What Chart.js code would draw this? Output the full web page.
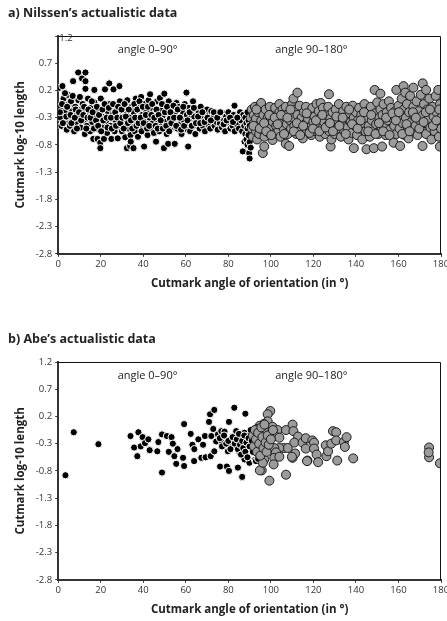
<!DOCTYPE html>
<html>
<head>
<meta charset="utf-8">
<script src="https://cdn.jsdelivr.net/npm/chart.js@4/dist/chart.umd.min.js"></script>
<style>
  html, body { margin: 0; padding: 0; background: #fff; }
  body { width: 447px; height: 621px; position: relative; overflow: hidden; }
  .box { position: absolute; left: 0; width: 447px; height: 296px; }
  #boxA { top: 0; }
  #boxB { top: 326px; }
</style>
</head>
<body>
<div class="box" id="boxA"><canvas id="chartA"></canvas></div>
<div class="box" id="boxB"><canvas id="chartB"></canvas></div>
<script>
// ---------- Data ----------
const chartTitles = ["a) Nilssen\u2019s actualistic data", "b) Abe\u2019s actualistic data"];
const xAxisTitle = "Cutmark angle of orientation (in \u00b0)";
const yAxisTitle = "Cutmark log-10 length";
const xTicks = [0, 20, 40, 60, 80, 100, 120, 140, 160, 180];
const yTicks = [-2.8, -2.3, -1.8, -1.3, -0.8, -0.3, 0.2, 0.7, 1.2];
const rangeLabels = ["angle 0\u201390\u00b0", "angle 90\u2013180\u00b0"];
const rangeLabelAngle = [42, 119];
const rangeLabelLength = 0.95;

// Nilssen, angle 0-90 (black) [angle, log10 length]
const nilssen0to90 = [
[0.5,0.25],[1,-0.1],[1.2,-0.3],[1.5,-0.45],[2,0.28],[2.5,0.05],[3,-0.2],[3.5,-0.38],[4,-0.52],[4.5,0.12],[5,-0.05],[5,-0.3],
[5.5,-0.45],[6,0.0],[6.5,-0.18],[7,0.37],[7,-0.35],[7.5,-0.55],[8,-0.1],[8.5,-0.25],[9,-0.42],[9.4,0.53],[9.5,0.02],[10,-0.3],
[10.5,-0.48],[11,-0.15],[11.2,0.42],[11.5,-0.05],[12,-0.35],[12.5,-0.6],[12.8,0.53],[12.8,0.37],[12.8,0.23],[13,-0.2],[13.5,-0.45],[14,0.05],[14.5,-0.3],
[15,-0.55],[15.5,-0.12],[16,-0.38],[16.5,-0.69],[17,0.21],[17,-0.02],[17.5,-0.25],[18,-0.5],[18.5,-0.69],[19,-0.15],[19.5,-0.35],[19.8,-0.76],[19.8,-0.86],[20,0.05],
[20.5,-0.28],[21,-0.48],[21.5,-0.69],[22,0.22],[22,-0.1],[22.5,-0.38],[23,-0.58],[23.5,-0.2],[24,0.33],[24,-0.05],[24.5,-0.45],[25,-0.69],
[25.5,-0.25],[26,0.22],[26,-0.1],[26.5,-0.55],[27,-0.35],[27.5,-0.15],[28,-0.68],[28.5,-0.45],[28.8,0.28],[29,0.0],[29.5,-0.28],[30,-0.55],
[30.5,-0.12],[31,-0.4],[31.5,-0.66],[32,-0.2],[32.3,-0.86],[32.5,0.02],[33,-0.5],[33.5,-0.3],[33.8,-0.82],[34,-0.62],[34.1,-0.74],[34.5,-0.1],[35,-0.42],[35.4,-0.86],
[35.5,-0.2],[36,-0.55],[36.5,0.05],[37,-0.32],[37.5,-0.65],[38,-0.12],[38.5,-0.45],[39,0.08],[39.5,-0.25],[40,-0.55],[40.4,-0.83],
[40.5,-0.05],[41,-0.38],[41.5,-0.18],[42,-0.62],[42.5,0.02],[43,-0.3],[43.2,0.13],[43.5,-0.5],[44,-0.12],[44.5,-0.4],[45,-0.58],
[45.5,-0.22],[46,-0.74],[46.5,0.0],[47,-0.35],[47.5,-0.55],[47.8,0.06],[48,-0.15],[48.5,-0.45],[49,-0.28],[49.7,-0.86],[49.9,0.14],[50,-0.05],
[50.5,-0.38],[51,-0.6],[51.5,-0.2],[51.7,-0.78],[52,0.0],[52.5,-0.32],[53,-0.5],[53.5,-0.12],[54,-0.42],[54.8,-0.78],[55,-0.25],
[55.6,-0.03],[56,-0.5],[56.5,-0.3],[57,-0.1],[57.5,-0.42],[58,-0.6],[58.5,-0.2],[59,-0.35],[59.5,-0.05],[60,-0.5],[60.3,0.16],
[60.5,-0.25],[61,-0.4],[61.1,-0.83],[61.5,-0.12],[62,-0.55],[62.5,-0.3],[63,-0.18],[63.4,0.0],[63.5,-0.45],[64,-0.28],[64.5,-0.6],[65,-0.15],
[65.5,-0.38],[66,-0.22],[66.5,-0.5],[67,-0.1],[67.5,-0.32],[68,-0.45],[68.5,-0.2],[69,-0.55],[69.5,-0.35],[70,-0.15],
[70.5,-0.42],[71,-0.25],[71.5,-0.5],[72,-0.18],[72.5,-0.35],[73,-0.28],[73.5,-0.45],[74,-0.2],[74.5,-0.38],[75,-0.52],
[75.5,-0.25],[76,-0.4],[76.5,-0.3],[77,-0.48],[77.5,-0.22],[78,-0.35],[78.5,-0.55],[79,-0.28],[79.5,-0.42],[80,-0.2],
[80.5,-0.38],[81,-0.5],[81.5,-0.3],[82,-0.45],[82.5,-0.25],[82.9,-0.08],[83,-0.55],[83.5,-0.35],[84,-0.42],[84.5,-0.28],[85,-0.5],[85.5,-0.2],
[86,-0.35],[86.5,-0.55],[86.8,-0.92],[87,-0.25],[87.5,-0.45],[87.6,-0.74],[88,-0.3],[88,-0.6],[88.5,-0.4],[88.5,-0.7],[89,-0.2],[89,-0.5],[89,-0.8],
[89.5,-0.35],[89.5,-0.62],[89.8,-0.95],[90,-0.45],[90,-1.05],[90,-0.75],[90.5,-0.85],
[0.8,-0.2],[1.8,-0.05],[2.2,-0.4],[3.2,0.15],[3.8,-0.28],[4.2,-0.1],[5.8,-0.25],[6.2,-0.4],[6.8,0.1],[7.8,-0.3],[8.2,-0.15],[8.8,-0.5],
[9.8,-0.2],[10.2,0.08],[10.8,-0.35],[11.8,-0.25],[12.2,-0.1],[13.2,-0.5],[13.8,-0.3],[14.2,-0.15],[15.2,-0.3],[15.8,0.0],[16.2,-0.2],[16.8,-0.5],
[17.8,-0.35],[18.2,-0.1],[18.8,-0.45],[19.2,-0.25],[20.2,-0.55],[20.8,-0.15],[21.2,-0.35],[21.8,-0.05],[22.8,-0.3],[23.2,-0.48],[23.8,-0.12],[24.8,-0.3],
[25.2,-0.5],[25.8,-0.05],[26.8,-0.2],[27.2,-0.45],[27.8,-0.3],[28.2,-0.1],[29.2,-0.4],[29.8,-0.15],[30.2,-0.3],[30.8,-0.5],[31.2,-0.05],[31.8,-0.28],
[32.8,-0.4],[33.2,-0.15],[34.2,-0.35],[34.8,-0.5],[35.8,-0.05],[36.2,-0.3],[36.8,-0.45],[37.2,-0.15],[37.8,-0.4],[38.2,0.0],[38.8,-0.3],[39.2,-0.55],
[39.8,-0.1],[40.2,-0.4],[41.2,-0.25],[41.8,-0.5],[42.2,-0.1],[42.8,-0.45],[43.8,-0.25],[44.2,-0.05],[45.2,-0.3],[45.8,-0.45],[46.2,-0.15],[46.8,-0.5],
[47.2,-0.25],[48.2,-0.35],[48.8,-0.05],[49.2,-0.5],[50.2,-0.2],[50.8,-0.45],[51.2,-0.1],[52.2,-0.55],[52.8,-0.2],[53.2,-0.4],[54.2,-0.08],[54.5,-0.3],
[55.5,-0.45],[56.2,-0.15],[57.2,-0.3],[57.8,-0.52],[58.8,-0.1],[59.2,-0.45],[60.8,-0.35],[61.8,-0.2],[62.8,-0.45],[63.8,-0.12],[64.8,-0.4],[65.8,-0.28],
[66.8,-0.4],[67.8,-0.2],[68.8,-0.38],[70.2,-0.3],[71.8,-0.35],[73.2,-0.2],[74.8,-0.3],[76.2,-0.2],[77.8,-0.42],[79.2,-0.35],[80.8,-0.3],[82.2,-0.38],[84.2,-0.3]
];

// Nilssen, angle 90-180 (grey)
const nilssen90to180 = [
[90.5,-0.3],[91,-0.15],[91,-0.5],[91.5,-0.65],[92,-0.25],[92,-0.4],[92.5,-0.1],[93,-0.55],[93,-0.32],[93.5,-0.7],[94,-0.2],[94,-0.45],[94.5,-0.6],[95,-0.08],[95.4,-0.03],[95.5,-0.35],[96,-0.52],[96.2,-0.95],[96.5,-0.25],[96.9,-0.83],[97,-0.65],[97.5,-0.15],[98,-0.42],[98.5,-0.3],[99,-0.58],[99.5,-0.1],[100,-0.48],
[100.5,-0.25],[100.8,-0.71],[101,-0.38],[101.5,-0.6],[102,-0.12],[102.5,-0.45],[103,-0.3],[103.5,-0.55],[104,-0.05],[104,-0.2],[104.5,-0.65],[105,-0.38],[105.5,-0.15],[106,-0.5],[106.5,-0.28],[107,-0.78],[107,-0.1],[107.5,-0.42],[108,-0.6],[108.6,-0.82],[108.5,-0.22],[109,-0.35],[109.5,-0.5],[110,-0.05],[110.6,0.05],
[110.5,-0.3],[111,-0.45],[111.5,-0.15],[112,-0.6],[112.5,0.16],[112.5,-0.25],[113,-0.38],[113.5,-0.08],[114,-0.52],[114.5,-0.3],[115,-0.68],[115.5,-0.2],[116,-0.42],[116.5,-0.1],[117,-0.55],[117.5,-0.32],[118,-0.22],[118.5,-0.48],[119,-0.62],[119.5,-0.12],[120,-0.38],
[120.5,-0.28],[121,-0.55],[121.5,-0.05],[122,-0.42],[122.5,-0.18],[123,-0.65],[123.4,-0.03],[123.5,-0.3],[124,-0.5],[124.5,-0.12],[125,-0.38],[125.5,-0.6],[126,-0.25],[126.5,-0.45],[127,-0.1],[127.3,0.13],[127.5,-0.55],[128,-0.32],[128.1,-0.83],[128.5,-0.7],[129,-0.2],[129.5,-0.42],[130,-0.6],
[130.5,-0.15],[131,-0.35],[131.5,-0.5],[132,-0.05],[132.5,-0.28],[133,-0.65],[133.5,-0.42],[134,-0.18],[134.5,-0.55],[135,-0.3],[135.5,-0.1],[136,-0.48],[136.5,-0.7],[137,-0.22],[137.5,-0.38],[138,-0.58],[138.5,-0.08],[139,-0.86],[139,-0.3],[139.5,-0.45],[140,-0.2],
[140.5,-0.62],[141,-0.35],[141.5,-0.12],[142,-0.5],[142.5,-0.25],[143,-0.7],[143.5,-0.4],[144,-0.05],[144.5,-0.55],[145,-0.88],[145,-0.3],[145.5,-0.18],[146,-0.45],[146.5,-0.65],[147,-0.1],[147.5,-0.35],[148,-0.55],[148.4,-0.86],[148.8,0.21],[149,-0.22],[149.5,-0.42],[150,-0.02],
[150.5,-0.6],[151,-0.3],[151.5,0.14],[151.5,-0.15],[152,-0.48],[152.3,-0.83],[152.5,-0.25],[153,-0.05],[153.5,-0.4],[154,-0.62],[154.5,-0.2],[155,-0.35],[155.5,0.0],[156,-0.52],[156.5,-0.12],[157,-0.3],[157.7,-0.76],[158,-0.45],[158.5,-0.18],[159,0.21],[159,-0.6],[159.5,-0.32],[160,-0.08],
[160.5,-0.5],[160.8,-0.82],[161,-0.25],[161.5,0.05],[162,-0.4],[162.4,0.28],[162.5,-0.15],[163,-0.62],[163.2,0.16],[163.5,-0.3],[164,-0.05],[164.5,-0.48],[164.7,-0.68],[165,-0.2],[165.5,0.1],[166,-0.38],[166.5,-0.55],[167,0.25],[167,-0.1],[167.5,-0.28],[168,-0.45],[168.5,0.0],[169,-0.62],[169.5,-0.18],[170,-0.35],
[170.5,0.12],[171,-0.5],[171.3,-0.82],[171.4,0.33],[171.5,-0.25],[172,-0.05],[172.5,-0.4],[173,0.21],[173,-0.6],[173.5,-0.15],[174,-0.32],[174.5,0.05],[175,-0.48],[175.5,-0.7],[176,-0.1],[176.5,-0.28],[177,-0.55],[177.5,0.1],[178,-0.2],[178.5,-0.4],[178.7,0.21],[179,-0.65],[179.5,-0.83],[179.5,-0.05],[180,-0.3],[180,-0.5],
[91.8,-0.45],[93.2,-0.15],[94.8,-0.5],[96.8,-0.4],[97.8,-0.55],[99.2,-0.25],[100.2,-0.62],[101.8,-0.3],[103.2,-0.42],[104.8,-0.25],[106.2,-0.6],[107.8,-0.3],
[109.2,-0.15],[110.8,-0.55],[112.2,-0.4],[113.8,-0.62],[115.2,-0.45],[116.8,-0.22],[118.2,-0.58],[119.8,-0.5],[121.2,-0.35],[122.8,-0.55],[124.2,-0.25],[125.8,-0.48],
[127.8,-0.4],[129.2,-0.55],[130.8,-0.28],[132.2,-0.45],[133.8,-0.3],[135.2,-0.6],[136.8,-0.15],[138.2,-0.42],[140.8,-0.5],[142.2,-0.35],[143.8,-0.2],[145.8,-0.55],
[147.2,-0.25],[149.2,-0.6],[150.8,-0.4],[152.8,-0.55],[154.2,-0.3],[155.8,-0.62],[157.2,-0.22],[158.8,-0.35],[160.2,-0.2],[161.8,-0.6],[163.8,-0.42],[165.2,-0.55],
[166.8,-0.2],[168.2,-0.3],[169.8,-0.5],[171.8,-0.38],[172.8,-0.2],[174.8,-0.15],[176.2,-0.45],[177.8,-0.35],[179.2,-0.15]
];

// Abe, angle 0-90 (black)
const abe0to90 = [
[3.4,-0.88],[7.3,-0.09],[18.9,-0.31],[34,-0.16],[35.7,-0.37],[37.2,-0.53],[37.7,-0.09],[38.8,-0.35],[39.7,-0.18],[40.8,-0.29],
[42.4,-0.22],[43,-0.42],[46.6,-0.44],[47.1,-0.27],[48.8,-0.13],[48.8,-0.83],[51.1,-0.16],[52,-0.45],[53.3,-0.18],[53.9,-0.30],
[54.6,-0.53],[55.5,-0.67],[56.1,-0.40],[58.7,-0.56],[59.2,0.06],[59.2,-0.71],[62.3,-0.12],[63.1,-0.32],[63.9,-0.62],[64,-0.40],
[65.9,-0.22],[67.3,-0.56],[68.1,-0.32],[69,-0.16],[69.3,-0.55],[70.9,0.10],[71.4,0.24],[71.7,-0.53],[72,-0.16],[72.9,-0.03],
[73.4,0.32],[73.4,-0.44],[74.3,-0.26],[75.1,-0.13],[76.1,-0.72],[76.7,-0.07],[77.1,-0.28],[78.2,-0.08],[79.3,-0.72],[79.8,-0.44],
[80.3,0.10],[80.3,-0.80],[81.3,-0.22],[82.1,-0.34],[82.8,0.36],[83.7,-0.07],[84.5,-0.74],[85.2,-0.46],[86,-0.28],[86.5,-0.91],
[87.6,-0.10],[87.6,-0.59],[88,0.25],[89.1,-0.16],[89.1,-0.40],[89.9,-0.65],
[76,-0.2],[77,-0.35],[78,-0.15],[79,-0.3],[80,-0.25],[81,-0.4],[82,-0.18],[83,-0.3],[84,-0.22],[84.5,-0.4],[85,-0.12],[85.5,-0.32],
[86,-0.5],[86.5,-0.25],[87,-0.38],[87.5,-0.15],[88,-0.45],[88.5,-0.28],[89,-0.55],[89.5,-0.2],[90,-0.35],[90.5,-0.05],[91,-0.25],
[91.5,-0.45],[92,-0.15],[92.5,-0.6],[93,-0.35],[93,-0.62],[94,-0.58]
];

// Abe, angle 90-180 (grey)
const abe90to180 = [
[99.7,0.30],[98.5,0.24],[98.5,0.11],[96.6,0.06],[94.8,0.03],[93.5,-0.03],[93.8,-0.13],[96.2,-0.10],[97.7,-0.10],[100.8,0.01],
[100.5,-0.10],[103.2,-0.05],[102.1,-0.16],[104,-0.19],[107.1,-0.05],[110.2,0.05],[110.6,-0.07],[112.8,-0.17],[111,-0.28],[114.9,-0.28],
[116.4,-0.20],[119.5,-0.24],[120.3,-0.28],[116.4,-0.39],[120.3,-0.39],[121.5,-0.50],[122.2,-0.64],[117.2,-0.61],[110.2,-0.56],[111.4,-0.48],
[106,-0.38],[107.9,-0.38],[104,-0.38],[101.6,-0.38],[102.4,-0.46],[101.6,-0.56],[101.3,-0.68],[104,-0.54],[107.1,-0.87],[99.3,-0.98],
[95.7,-0.79],[94.8,-0.79],[96.9,-0.59],[96.2,-0.65],[94.1,-0.40],[93,-0.28],[95.4,-0.28],[96.9,-0.22],[99.3,-0.19],
[126.1,-0.53],[125.8,-0.33],[126.9,-0.44],[128.4,-0.30],[129.2,-0.07],[130.7,-0.09],[130.7,-0.24],[131.2,-0.61],[134.3,-0.27],[135.6,-0.18],
[134.8,-0.36],[138.7,-0.57],[174.4,-0.37],[174.4,-0.55],[179.5,-0.66],[174.2,-0.46],
[91.5,-0.15],[92,-0.35],[92.5,-0.05],[93,-0.22],[93.5,-0.45],[94,-0.1],[94.5,-0.3],[95,-0.52],[95.5,0.0],[96,-0.18],
[96.5,-0.38],[97,0.05],[97.5,-0.28],[98,-0.45],[98.5,-0.15],[99,-0.32],[100,-0.22],[101,-0.05],[109.9,-0.54],[117,-0.62]
];

// ---------- Rendering ----------
const FONT = "'Open Sans', 'Noto Sans', sans-serif";
const toPts = arr => arr.map(p => ({ x: p[0], y: p[1] }));

const extrasPlugin = {
  id: 'extras',
  afterDraw(chart, args, opts) {
    const { ctx, chartArea: a, scales } = chart;
    ctx.save();
    ctx.strokeStyle = '#111';
    ctx.lineWidth = 1;
    ctx.beginPath();
    ctx.moveTo(a.left, a.top + 0.5);
    ctx.lineTo(a.right - 0.5, a.top + 0.5);
    ctx.lineTo(a.right - 0.5, a.bottom);
    ctx.stroke();
    ctx.fillStyle = '#222';
    ctx.font = "11px " + FONT;
    ctx.textAlign = 'center';
    ctx.textBaseline = 'middle';
    rangeLabels.forEach((t, i) => {
      ctx.fillText(t, scales.x.getPixelForValue(rangeLabelAngle[i]), scales.y.getPixelForValue(rangeLabelLength));
    });
    if (opts.topLabelInside) {
      ctx.font = "9.5px " + FONT;
      ctx.fillStyle = '#333';
      ctx.textAlign = 'left';
      ctx.fillText(yTicks[yTicks.length - 1].toFixed(1), a.left + 1, scales.y.getPixelForValue(yTicks[yTicks.length - 1]) + 2);
    }
    ctx.restore();
  }
};

function makeChart(id, title, blackData, greyData, topLabelInside) {
  const top = yTicks[yTicks.length - 1];
  return new Chart(document.getElementById(id), {
    type: 'scatter',
    data: {
      datasets: [
        {
          label: 'angle 90–180°',
          data: toPts(greyData),
          backgroundColor: '#9b9b9b',
          borderColor: '#1a1a1a',
          borderWidth: 1,
          pointRadius: 4.5
        },
        {
          label: 'angle 0–90°',
          data: toPts(blackData),
          backgroundColor: '#000',
          borderColor: '#fff',
          borderWidth: 1,
          pointRadius: 3.6
        }
      ]
    },
    options: {
      responsive: true,
      maintainAspectRatio: false,
      animation: false,
      events: [],
      layout: { padding: { top: 6, left: 8, right: 0, bottom: 5 } },
      plugins: {
        legend: { display: false },
        tooltip: { enabled: false },
        title: {
          display: true,
          text: title,
          align: 'start',
          color: '#222',
          font: { family: FONT, size: 12.5, weight: 'bold' },
          padding: { top: 0, bottom: 15 }
        },
        extras: { topLabelInside }
      },
      scales: {
        x: {
          type: 'linear',
          min: xTicks[0],
          max: xTicks[xTicks.length - 1],
          afterBuildTicks: s => { s.ticks = xTicks.map(v => ({ value: v })); },
          afterFit: s => { s.paddingRight = 6; },
          ticks: { color: '#333', font: { family: FONT, size: 9.5 }, padding: 2, maxRotation: 0 },
          grid: { display: true, drawOnChartArea: false, drawTicks: true, tickLength: 3, color: '#333' },
          border: { display: true, color: '#333', width: 2 },
          title: { display: true, text: xAxisTitle, color: '#222', font: { family: FONT, size: 11.5, weight: 'bold' }, padding: { top: 5, bottom: 0 } }
        },
        y: {
          type: 'linear',
          min: yTicks[0],
          max: top,
          afterBuildTicks: s => { s.ticks = yTicks.map(v => ({ value: v })); },
          ticks: {
            color: '#333', font: { family: FONT, size: 9.5 }, padding: 3,
            callback: v => (topLabelInside && Math.abs(v - top) < 1e-6) ? '' : Number(v).toFixed(1)
          },
          grid: { display: true, drawOnChartArea: false, drawTicks: true, tickLength: 3, color: '#333' },
          border: { display: true, color: '#333', width: 2 },
          title: { display: true, text: yAxisTitle, color: '#222', font: { family: FONT, size: 11.5, weight: 'bold' }, padding: { top: 6, bottom: 5 } }
        }
      }
    },
    plugins: [extrasPlugin]
  });
}

makeChart('chartA', chartTitles[0], nilssen0to90, nilssen90to180, true);
makeChart('chartB', chartTitles[1], abe0to90, abe90to180, false);
</script>
</body>
</html>
